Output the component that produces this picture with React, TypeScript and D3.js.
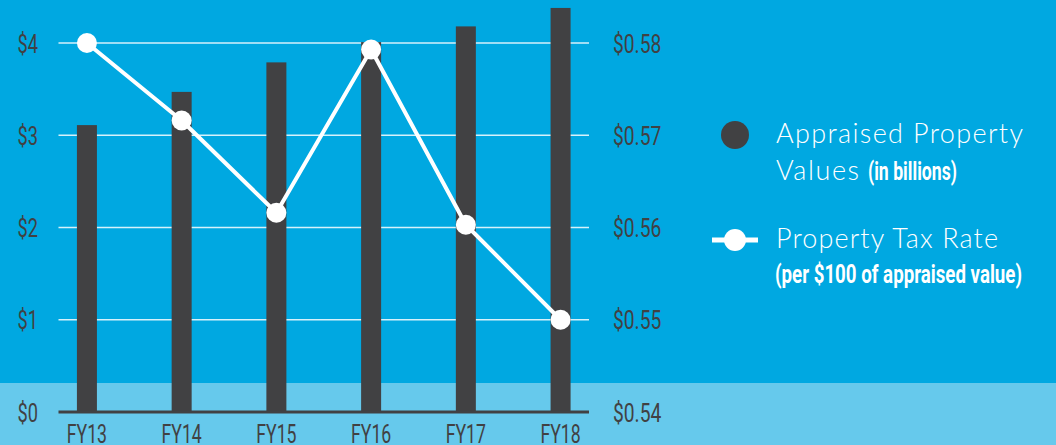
import React from "react";
import * as d3 from "d3";

const years = ["FY13", "FY14", "FY15", "FY16", "FY17", "FY18"];
const appraisedValues = [3.11, 3.47, 3.79, 4.01, 4.18, 4.38];
const taxRates = [0.58, 0.5716, 0.5616, 0.5793, 0.5603, 0.55];
const leftTicks = [0, 1, 2, 3, 4];
const rightTicks = [0.54, 0.55, 0.56, 0.57, 0.58];

const W = 1056;
const H = 445;
const BG = "#00A8E1";
const BAND = "#66C9EC";
const DARK = "#414143";
const COND = "Roboto, 'Noto Sans', sans-serif";
const LIGHT = "Lato, 'Open Sans', sans-serif";

function Cond(props: {
  x: number; y: number; text: string; size: number; sx?: number;
  anchor?: string; weight?: number | string; fill?: string;
}) {
  const { x, y, text, size, sx = 0.72, anchor = "start", weight = 400, fill = DARK } = props;
  return (
    <text
      transform={`translate(${x},${y}) scale(${sx},1)`}
      textAnchor={anchor}
      fontFamily={COND}
      fontSize={size}
      fontWeight={weight}
      fill={fill}
    >
      {text}
    </text>
  );
}

export default function App() {
  const x = d3.scalePoint<string>().domain(years).range([58.5, 589]).padding(0.3);
  const yL = d3.scaleLinear().domain([0, 4]).range([412, 43]);
  const yR = d3.scaleLinear().domain([0.54, 0.58]).range([412, 43]);
  const barW = 20;
  const line = d3
    .line<number>()
    .x((_, i) => x(years[i]) as number)
    .y((d) => yR(d));
  const fmtR = (v: number) => "$" + d3.format(".2f")(v);

  return (
    <div style={{ position: "absolute", left: 0, top: 0, width: W, height: H }}>
      <svg width={W} height={H} style={{ display: "block" }}>
        <rect x={0} y={0} width={W} height={H} fill={BG} />
        <rect x={0} y={383} width={W} height={H - 383} fill={BAND} />

        {leftTicks.filter((t) => t > 0).map((t) => (
          <line key={t} x1={58.5} x2={589} y1={yL(t)} y2={yL(t)} stroke="#D6F1FB" strokeWidth={1.5} />
        ))}

        {years.map((yr, i) => (
          <rect
            key={yr}
            x={(x(yr) as number) - barW / 2}
            y={yL(appraisedValues[i])}
            width={barW}
            height={yL(0) - yL(appraisedValues[i])}
            fill={DARK}
          />
        ))}

        <line x1={58.5} x2={589} y1={yL(0)} y2={yL(0)} stroke={DARK} strokeWidth={3} />

        {leftTicks.map((t) => (
          <Cond key={t} x={38} y={yL(t) + 9.5} text={"$" + t} size={26} sx={0.7} anchor="end" />
        ))}
        {rightTicks.map((t) => (
          <Cond key={t} x={613} y={yR(t) + 9.5} text={fmtR(t)} size={26} sx={0.74} />
        ))}
        {years.map((yr) => (
          <Cond key={yr} x={x(yr) as number} y={443} text={yr} size={26} sx={0.68} anchor="middle" />
        ))}

        <path d={line(taxRates) || ""} fill="none" stroke="#FFFFFF" strokeWidth={4} strokeLinejoin="round" />
        {taxRates.map((v, i) => (
          <circle key={i} cx={x(years[i]) as number} cy={yR(v)} r={10} fill="#FFFFFF" />
        ))}

        {/* Legend */}
        <circle cx={735} cy={135} r={14} fill={DARK} />
        <text x={776} y={143} fontFamily={LIGHT} fontWeight={300} fontSize={27}
          fill="#FFFFFF" textLength={247} lengthAdjust="spacing">Appraised Property</text>
        <text x={776} y={180} fontFamily={LIGHT} fontWeight={300} fontSize={27}
          fill="#FFFFFF" textLength={83} lengthAdjust="spacing">Values</text>
        <text x={868} y={180} fontFamily={COND} fontWeight={700} fontSize={25}
          fill="#FFFFFF" textLength={89} lengthAdjust="spacingAndGlyphs">(in billions)</text>

        <line x1={712} x2={758} y1={240} y2={240} stroke="#FFFFFF" strokeWidth={5} />
        <circle cx={735} cy={240} r={11} fill="#FFFFFF" />
        <text x={776} y={248} fontFamily={LIGHT} fontWeight={300} fontSize={27}
          fill="#FFFFFF" textLength={222} lengthAdjust="spacing">Property Tax Rate</text>
        <text x={775} y={283} fontFamily={COND} fontWeight={700} fontSize={25}
          fill="#FFFFFF" textLength={247} lengthAdjust="spacingAndGlyphs">(per $100 of appraised value)</text>
      </svg>
    </div>
  );
}
